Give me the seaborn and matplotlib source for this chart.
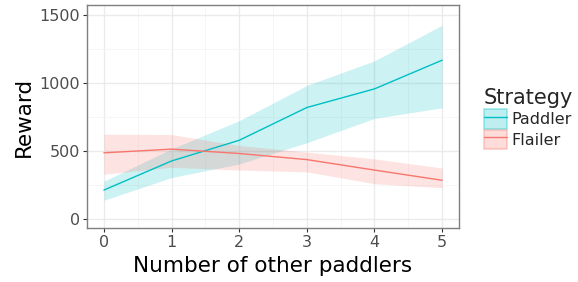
import numpy as np
import pandas as pd
import seaborn as sns
import matplotlib
matplotlib.use("Agg")
import matplotlib.pyplot as plt
from matplotlib.patches import Patch
from matplotlib.lines import Line2D
from matplotlib.ticker import MultipleLocator
from matplotlib.colors import to_rgba
from matplotlib.legend_handler import HandlerTuple

others = [0, 1, 2, 3, 4, 5]
paddler_mean = [214, 428, 580, 821, 958, 1169]
paddler_low = [139, 306, 406, 562, 741, 819]
paddler_high = [279, 517, 724, 983, 1164, 1426]
flailer_mean = [488, 515, 483, 438, 361, 286]
flailer_low = [331, 381, 361, 348, 261, 231]
flailer_high = [625, 622, 542, 493, 443, 376]
strategies = ["Paddler", "Flailer"]
colors = {"Paddler": "#00BFC4", "Flailer": "#F8766D"}

df = pd.DataFrame({
    "others": others * 2,
    "reward": paddler_mean + flailer_mean,
    "low": paddler_low + flailer_low,
    "high": paddler_high + flailer_high,
    "Strategy": ["Paddler"] * 6 + ["Flailer"] * 6,
})

sns.set_theme(style="white")
plt.rcParams['font.family'] = ['DejaVu Sans']

fig = plt.figure(figsize=(5.78, 2.82), dpi=100)
ax = fig.add_axes([87 / 578, 1 - 228 / 282, (459 - 87) / 578, (228 - 5) / 282])

for s in strategies:
    d = df[df.Strategy == s]
    ax.fill_between(d.others, d.low, d.high, color=colors[s], alpha=0.2, linewidth=0, zorder=2)
sns.lineplot(data=df, x="others", y="reward", hue="Strategy", palette=colors,
             hue_order=strategies, ax=ax, linewidth=1, legend=False, zorder=3)

ax.set_xlim(-0.25, 5.25)
ax.set_ylim(-65, 1575)
ax.xaxis.set_major_locator(MultipleLocator(1))
ax.xaxis.set_minor_locator(MultipleLocator(0.5))
ax.yaxis.set_major_locator(MultipleLocator(500))
ax.yaxis.set_minor_locator(MultipleLocator(250))
ax.grid(which="major", color="#EBEBEB", linewidth=1.0, zorder=0)
ax.grid(which="minor", color="#F5F5F5", linewidth=0.6, zorder=0)
ax.set_axisbelow(True)
for sp in ax.spines.values():
    sp.set_color("#7F7F7F")
    sp.set_linewidth(1.0)
ax.tick_params(axis="both", which="major", length=3, width=0.8, color="#333333",
               labelsize=11.5, labelcolor="#4D4D4D", direction="out", bottom=True, left=True, pad=2)
ax.tick_params(axis="both", which="minor", length=0)
ax.set_xlabel("Number of other paddlers", fontsize=15.5, color="black", labelpad=4)
ax.set_ylabel("Reward", fontsize=15.5, color="black", labelpad=4)

handles = []
for s in strategies:
    handles.append((Patch(facecolor=to_rgba(colors[s], 0.25), edgecolor=to_rgba(colors[s], 0.35),
                          linewidth=1.2),
                    Line2D([], [], color=colors[s], linewidth=1)))
leg = fig.legend(handles, strategies, title="Strategy", loc="center left",
                 bbox_to_anchor=(484 / 578, 1 - 118.5 / 282), frameon=False, fontsize=11.5,
                 title_fontsize=15, handlelength=1.45, handleheight=1.5,
                 handletextpad=0.25, labelspacing=0.08, borderaxespad=0, borderpad=0,
                 handler_map={tuple: HandlerTuple(ndivide=1, pad=0)})
leg._legend_box.align = "left"

fig.savefig("out.png", dpi=100)
